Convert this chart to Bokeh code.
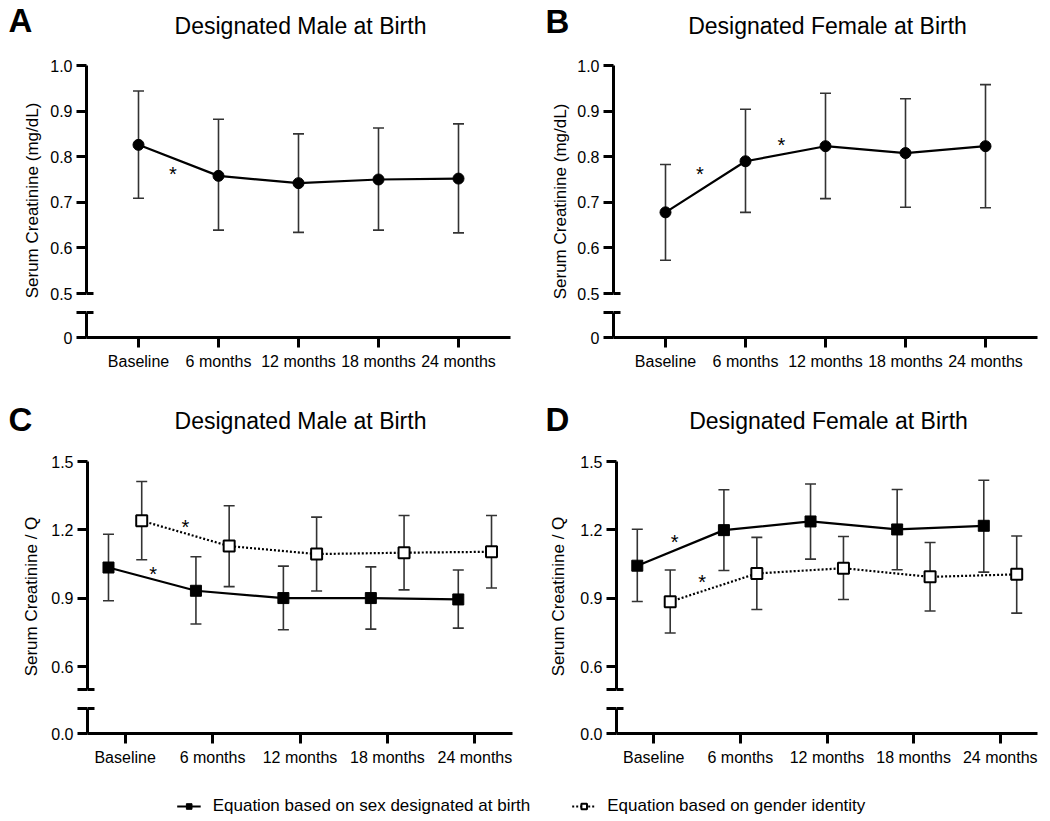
import math
from bokeh.plotting import figure
from bokeh.layouts import column, row
from bokeh.models import (Range1d, FixedTicker, NumeralTickFormatter,
                          Legend, LegendItem)
from bokeh.embed import file_html
from bokeh.resources import INLINE
from bokeh.core.properties import value

# ---------------- data ----------------
categories = ["Baseline", "6 months", "12 months", "18 months", "24 months"]

# Panel A: serum creatinine (mg/dL), designated male at birth
a_mean = [0.826, 0.758, 0.742, 0.750, 0.752]
a_hi = [0.944, 0.882, 0.850, 0.863, 0.872]
a_lo = [0.709, 0.639, 0.634, 0.639, 0.633]
a_sig_x = [0.43]
a_sig_y = [0.769]

# Panel B: serum creatinine (mg/dL), designated female at birth
b_mean = [0.678, 0.790, 0.823, 0.808, 0.823]
b_hi = [0.783, 0.904, 0.939, 0.927, 0.958]
b_lo = [0.573, 0.678, 0.708, 0.689, 0.688]
b_sig_x = [0.43, 1.45]
b_sig_y = [0.768, 0.832]

# Panel C: serum creatinine / Q, designated male at birth
c_sex_mean = [1.035, 0.933, 0.901, 0.901, 0.895]
c_sex_hi = [1.181, 1.082, 1.041, 1.038, 1.024]
c_sex_lo = [0.889, 0.787, 0.762, 0.765, 0.769]
c_gen_mean = [1.240, 1.129, 1.094, 1.100, 1.104]
c_gen_hi = [1.412, 1.306, 1.256, 1.263, 1.263]
c_gen_lo = [1.069, 0.951, 0.932, 0.937, 0.945]
c_sig_x = [0.32, 0.69]
c_sig_y = [1.021, 1.228]

# Panel D: serum creatinine / Q, designated female at birth
d_sex_mean = [1.043, 1.199, 1.237, 1.202, 1.218]
d_sex_hi = [1.203, 1.376, 1.401, 1.377, 1.418]
d_sex_lo = [0.886, 1.022, 1.072, 1.025, 1.015]
d_gen_mean = [0.885, 1.009, 1.032, 0.994, 1.005]
d_gen_hi = [1.024, 1.167, 1.171, 1.145, 1.173]
d_gen_lo = [0.748, 0.851, 0.895, 0.844, 0.835]
d_sig_x = [0.24, 0.56]
d_sig_y = [1.160, 0.984]

ab_yticks = [0.5, 0.6, 0.7, 0.8, 0.9, 1.0]
cd_yticks = [0.5, 0.6, 0.9, 1.2, 1.5]

panel_letters = ["A", "B", "C", "D"]
panel_titles = ["Designated Male at Birth", "Designated Female at Birth",
                "Designated Male at Birth", "Designated Female at Birth"]
y_labels = ["Serum Creatinine (mg/dL)", "Serum Creatinine (mg/dL)",
            "Serum Creatinine / Q", "Serum Creatinine / Q"]
legend_labels = ["Equation based on sex designated at birth",
                 "Equation based on gender identity"]

# ---------------- style ----------------
FONT = "Liberation Sans"
ERR = "#333333"
PAD = 3
UP_H = 228
LOW_H = 25
DODGE = 0.19
TOTAL_W = 1040


def style_axis(ax):
    ax.axis_line_width = 3
    ax.axis_line_color = "black"
    ax.major_tick_line_width = 3
    ax.major_tick_line_color = "black"
    ax.major_tick_out = 10
    ax.major_tick_in = 0
    ax.minor_tick_line_color = None
    ax.major_label_text_font = FONT
    ax.major_label_text_font_size = "16px"
    ax.major_label_text_color = "black"
    ax.major_label_standoff = 4


def blank_fig(w, h):
    f = figure(width=w, height=h, x_range=Range1d(0, w), y_range=Range1d(0, h),
               min_border=0, x_axis_location=None, y_axis_location=None,
               toolbar_location=None, output_backend="svg")
    f.grid.visible = False
    f.outline_line_color = None
    return f


def header(h, letters, letter_x, letter_cy, titles, title_cx, title_cy):
    f = blank_fig(TOTAL_W, h)
    f.text(x=letter_x, y=[h - c for c in letter_cy], text=letters,
           text_font=value(FONT), text_font_size="33px",
           text_font_style="bold", text_align="left",
           text_baseline="middle", text_color="black")
    f.text(x=title_cx, y=[h - c for c in title_cy], text=titles,
           text_font=value(FONT), text_font_size="23px",
           text_align="center", text_baseline="middle",
           text_color="black")
    return f


def side(w, h, label, cx, cy):
    f = blank_fig(w, h)
    f.text(x=[cx], y=[h - cy], text=[label], angle=math.pi / 2,
           text_font=value(FONT), text_font_size="17px",
           text_align="center", text_baseline="middle", text_color="black")
    return f


def make_panel(y_lo, y_hi, yticks, hide_lo_label, zero_label, series,
               sig_x, sig_y, x0, x1, lb, fw, rb, tb, bb):
    span = y_hi - y_lo
    pad_u = span * PAD / UP_H
    xr = Range1d(x0, x1)
    px_per_x = fw / (x1 - x0)
    cap_dx = 7 / px_per_x

    up = figure(x_range=xr, y_range=Range1d(y_lo - pad_u, y_hi + pad_u),
                frame_width=fw, frame_height=UP_H + 2 * PAD,
                min_border_left=lb, min_border_right=rb, min_border_top=tb,
                min_border_bottom=6, x_axis_location=None,
                toolbar_location=None, output_backend="svg")
    up.grid.visible = False
    up.outline_line_color = None
    yax = up.yaxis[0]
    style_axis(yax)
    yax.bounds = (y_lo, y_hi)
    yax.ticker = FixedTicker(ticks=yticks)
    yax.formatter = NumeralTickFormatter(format="0.0")
    if hide_lo_label:
        yax.major_label_overrides = {y_lo: ""}

    # inner half of the axis-break cap
    up.segment(x0=[x0], y0=[y_lo], x1=[x0 + cap_dx], y1=[y_lo],
               line_width=3, line_color="black")

    for s in series:
        xs = [i + s["off"] for i in range(len(categories))]
        up.segment(x0=xs, y0=s["lo"], x1=xs, y1=s["hi"], line_width=1.6,
                   line_color=ERR)
        up.scatter(x=xs, y=s["hi"], marker="dash", size=11, line_width=1.6,
                   line_color=ERR)
        up.scatter(x=xs, y=s["lo"], marker="dash", size=11, line_width=1.6,
                   line_color=ERR)
    for s in series:
        xs = [i + s["off"] for i in range(len(categories))]
        up.line(x=xs, y=s["mean"], line_width=2.2, line_color="black",
                line_dash=s["dash"])
    for s in series:
        xs = [i + s["off"] for i in range(len(categories))]
        up.scatter(x=xs, y=s["mean"], marker=s["marker"], size=s["size"],
                   fill_color=s["fill"], line_color="black",
                   line_width=s["lw"])

    up.text(x=sig_x, y=sig_y, text=["*"] * len(sig_x), y_offset=3,
            text_font=value(FONT), text_font_size="20px",
            text_align="center", text_baseline="middle", text_color="black")

    low = figure(x_range=xr, y_range=Range1d(0, 1 + PAD / LOW_H),
                 frame_width=fw, frame_height=LOW_H + PAD,
                 min_border_left=lb, min_border_right=rb, min_border_top=7,
                 min_border_bottom=bb, toolbar_location=None,
                 output_backend="svg")
    low.grid.visible = False
    low.outline_line_color = None
    lyax = low.yaxis[0]
    style_axis(lyax)
    lyax.bounds = (0, 1)
    lyax.ticker = FixedTicker(ticks=[0, 1])
    lyax.major_label_overrides = {0: zero_label, 1: ""}
    xax = low.xaxis[0]
    style_axis(xax)
    xax.ticker = FixedTicker(ticks=list(range(len(categories))))
    xax.major_label_overrides = {i: c for i, c in enumerate(categories)}
    xax.major_label_standoff = 5
    low.segment(x0=[x0], y0=[1], x1=[x0 + cap_dx], y1=[1],
                line_width=3, line_color="black")
    return column(up, low)


def circle_series(mean, lo, hi):
    return dict(off=0.0, mean=mean, lo=lo, hi=hi, marker="circle", size=11,
                fill="black", lw=1, dash="solid")


def sex_series(mean, lo, hi):
    return dict(off=-DODGE, mean=mean, lo=lo, hi=hi, marker="square",
                size=11, fill="black", lw=1, dash="solid")


def gen_series(mean, lo, hi):
    return dict(off=DODGE, mean=mean, lo=lo, hi=hi, marker="square",
                size=11, fill="white", lw=2, dash="2 2")


# row 1: header 0..45, panels 45..390
h1 = header(45, panel_letters[:2], [8, 545], [20, 21],
            panel_titles[:2], [300, 827], [25, 25])
pA = make_panel(0.5, 1.0, ab_yticks, False, "0",
                [circle_series(a_mean, a_lo, a_hi)], a_sig_x, a_sig_y,
                -0.65, 4.65, 43, 424, 17, 17, 53)
pB = make_panel(0.5, 1.0, ab_yticks, False, "0",
                [circle_series(b_mean, b_lo, b_hi)], b_sig_x, b_sig_y,
                -0.65, 4.65, 43, 424, 3, 17, 53)
sA = side(43, 345, y_labels[0], 31.5, 155)
sB = side(43, 345, y_labels[1], 32.5, 156)

# row 2: header 390..440, panels 440..773
h2 = header(50, panel_letters[2:], [8, 545], [29, 29],
            panel_titles[2:], [300, 828], [30, 30])
pC = make_panel(0.5, 1.5, cd_yticks, True, "0.0",
                [sex_series(c_sex_mean, c_sex_lo, c_sex_hi),
                 gen_series(c_gen_mean, c_gen_lo, c_gen_hi)],
                c_sig_x, c_sig_y, -0.43, 4.43, 43, 425, 17, 18, 40)
pD = make_panel(0.5, 1.5, cd_yticks, True, "0.0",
                [sex_series(d_sex_mean, d_sex_lo, d_sex_hi),
                 gen_series(d_gen_mean, d_gen_lo, d_gen_hi)],
                d_sig_x, d_sig_y, -0.43, 4.43, 43, 421, 3, 18, 40)
sC = side(44, 333, y_labels[2], 31, 156)
sD = side(44, 333, y_labels[3], 29, 156)

# ---------------- legend ----------------
lg = figure(frame_width=1042, frame_height=22, x_range=Range1d(0, 1),
            y_range=Range1d(0, 1), min_border_left=0, min_border_right=0,
            min_border_top=22, min_border_bottom=0,
            x_axis_location=None, y_axis_location=None,
            toolbar_location=None, output_backend="svg")
lg.grid.visible = False
lg.outline_line_color = None
# legend-only renderers: their single sample lies outside the visible range
r1l = lg.line(x=[5, 6], y=[5, 5], line_width=2.2, line_color="black")
r1s = lg.scatter(x=[5], y=[5], marker="square", size=10, fill_color="black",
                 line_color="black")
r2l = lg.line(x=[5, 6], y=[5, 5], line_width=2.2, line_color="black",
              line_dash="2 2")
r2s = lg.scatter(x=[5], y=[5], marker="square", size=10, fill_color="white",
                 line_color="black", line_width=2)
legend = Legend(items=[LegendItem(label=legend_labels[0], renderers=[r1l, r1s]),
                       LegendItem(label=legend_labels[1], renderers=[r2l, r2s])],
                orientation="horizontal", location="center",
                glyph_width=24, glyph_height=14, label_standoff=12,
                spacing=41, padding=0, margin=0, border_line_color=None,
                background_fill_alpha=0, label_text_font=FONT,
                label_text_font_size="17px", label_text_color="black")
lg.add_layout(legend)

layout = column(h1, row(sA, pA, sB, pB), h2, row(sC, pC, sD, pD), lg)
open("out.html", "w").write(file_html(layout, INLINE))
